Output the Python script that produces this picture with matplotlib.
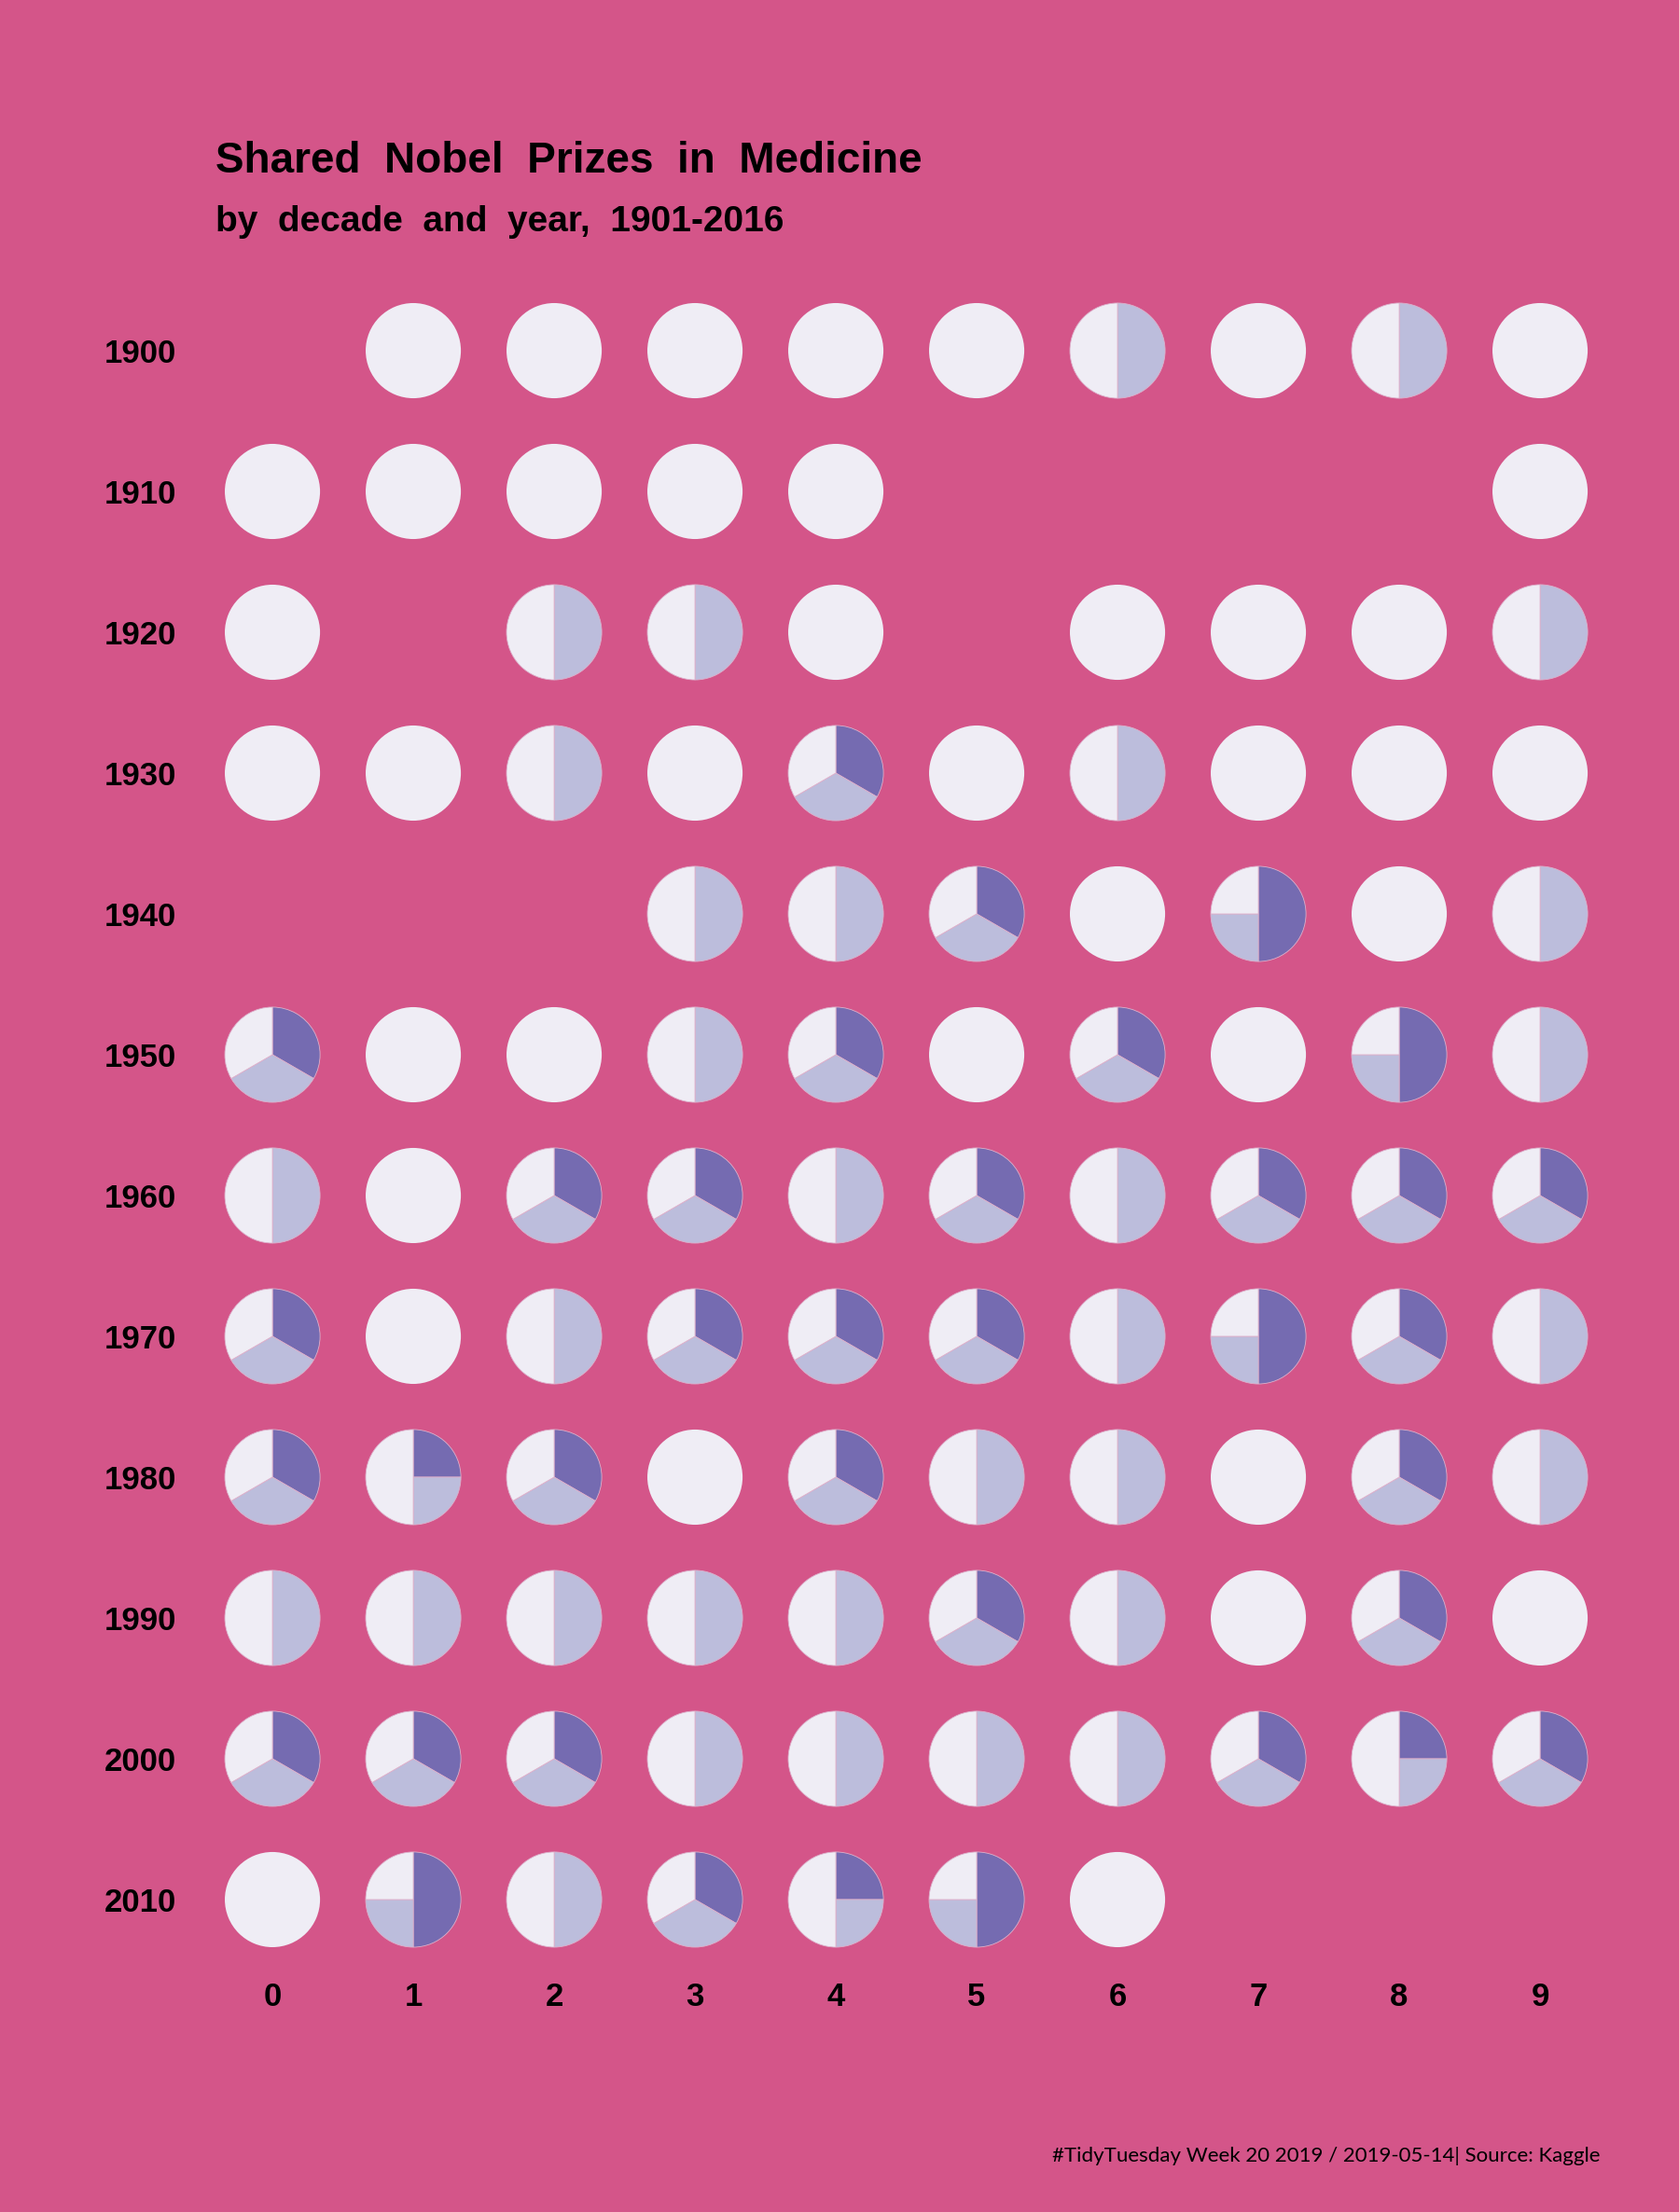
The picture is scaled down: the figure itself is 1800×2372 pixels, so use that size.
import matplotlib.pyplot as plt
from matplotlib.patches import Wedge
from matplotlib import font_manager

# decades (rows) and digits (columns)
decades = [1900, 1910, 1920, 1930, 1940, 1950, 1960, 1970, 1980, 1990, 2000, 2010]
digits = list(range(10))

# how each year's prize was split: '' no prize, '1' one laureate, '2' halves,
# '3' thirds, 'H' half + two quarters, 'Q' two quarters + half
prize_split = [
    ['', '1', '1', '1', '1', '1', '2', '1', '2', '1'],
    ['1', '1', '1', '1', '1', '', '', '', '', '1'],
    ['1', '', '2', '2', '1', '', '1', '1', '1', '2'],
    ['1', '1', '2', '1', '3', '1', '2', '1', '1', '1'],
    ['', '', '', '2', '2', '3', '1', 'H', '1', '2'],
    ['3', '1', '1', '2', '3', '1', '3', '1', 'H', '2'],
    ['2', '1', '3', '3', '2', '3', '2', '3', '3', '3'],
    ['3', '1', '2', '3', '3', '3', '2', 'H', '3', '2'],
    ['3', 'Q', '3', '1', '3', '2', '2', '1', '3', '2'],
    ['2', '2', '2', '2', '2', '3', '2', '1', '3', '1'],
    ['3', '3', '3', '2', '2', '2', '2', '3', 'Q', '3'],
    ['1', 'H', '2', '3', 'Q', 'H', '1', '', '', ''],
]
shares = {
    '1': [1.0],
    '2': [0.5, 0.5],
    '3': [1 / 3, 1 / 3, 1 / 3],
    'H': [0.5, 0.25, 0.25],
    'Q': [0.25, 0.25, 0.5],
}

bg = '#D45589'
purples = ['#756BB1', '#BCBDDC', '#EFEDF5']


def pick_font(names):
    for n in names:
        try:
            font_manager.findfont(n, fallback_to_default=False)
            return n
        except Exception:
            pass
    return 'DejaVu Sans'


label_font = pick_font(['Liberation Sans', 'Roboto', 'DejaVu Sans'])
cap_font = pick_font(['Lato', 'Open Sans', 'Noto Sans'])

fig = plt.figure(figsize=(18, 23.72), dpi=100, facecolor=bg)
ax = fig.add_axes([0.1203, 0.10941, 0.8389, 0.7639])
ax.set_facecolor(bg)

r = 0.338
for i, dec in enumerate(decades):
    y = len(decades) - 1 - i
    for j, code in enumerate(prize_split[i]):
        if not code:
            continue
        parts = shares[code]
        cols = purples[-len(parts):]
        cum = 0.0
        for part, c in zip(parts, cols):
            t2 = 90 - cum * 360
            cum += part
            t1 = 90 - cum * 360
            lw = 0 if len(parts) == 1 else 0.6
            ax.add_patch(Wedge((digits[j], y), r, t1, t2, facecolor=c,
                               edgecolor='#DDB0CB', linewidth=lw))

ax.set_xlim(-0.5, 9.5)
ax.set_ylim(-0.5, len(decades) - 0.5)
ax.set_aspect('equal')
ax.set_xticks(digits)
ax.set_xticklabels([str(d) for d in digits])
ax.set_yticks([len(decades) - 1 - i for i in range(len(decades))])
ax.set_yticklabels([str(d) for d in decades])
ax.tick_params(axis='x', length=0, pad=9, labelsize=25)
ax.tick_params(axis='y', length=0, pad=20, labelsize=25)
for lab in ax.get_xticklabels() + ax.get_yticklabels():
    lab.set_fontfamily(label_font)
    lab.set_fontweight('bold')
for s in ax.spines.values():
    s.set_visible(False)

fig.text(0.1283, 0.922, 'Shared  Nobel  Prizes  in  Medicine', fontsize=33,
         fontweight='bold', family=label_font, va='baseline', ha='left')
fig.text(0.1283, 0.8954, 'by  decade  and  year,  1901-2016', fontsize=28,
         fontweight='bold', family=label_font, va='baseline', ha='left')
fig.text(0.9528, 0.02277, '#TidyTuesday Week 20 2019 / 2019-05-14| Source: Kaggle',
         fontsize=16, family=cap_font, va='baseline', ha='right')

fig.savefig('out.png', dpi=100, facecolor=bg)
